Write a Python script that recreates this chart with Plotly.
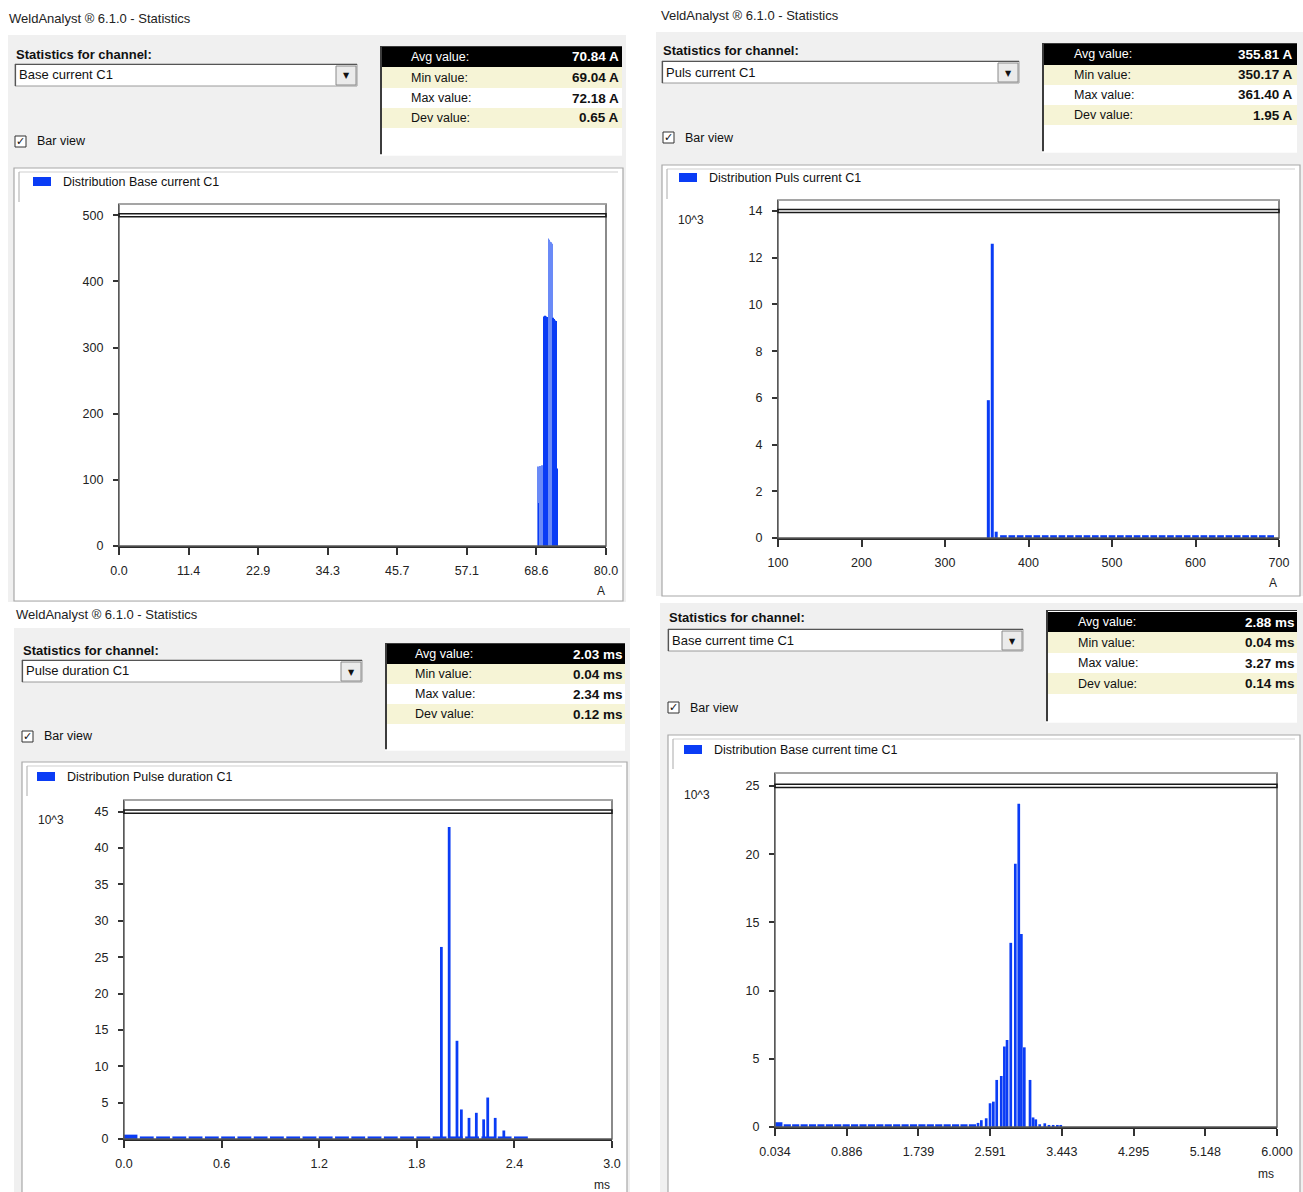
import plotly.graph_objects as go

W, H = 1303, 1192
FONT = "Liberation Sans, Arial, sans-serif"
BLUE = "#0a3cf5"
LIGHT = "#6a8af7"
CREAM = "#f6f4d6"
PANEL = "#f0f0f0"

# ---------------- data ----------------
row_labels = ["Avg value:", "Min value:", "Max value:", "Dev value:"]
channels = ["Base current C1", "Puls current C1", "Pulse duration C1", "Base current time C1"]
legend_names = ["Distribution Base current C1", "Distribution Puls current C1",
                "Distribution Pulse duration C1", "Distribution Base current time C1"]
stats_text = [
    ["70.84 A", "69.04 A", "72.18 A", "0.65 A"],
    ["355.81 A", "350.17 A", "361.40 A", "1.95 A"],
    ["2.03 ms", "0.04 ms", "2.34 ms", "0.12 ms"],
    ["2.88 ms", "0.04 ms", "3.27 ms", "0.14 ms"],
]

# Panel 1: Base current C1 (A) - counts
p1_x = [68.75, 68.85, 68.95, 69.05, 69.15, 69.25, 69.35, 69.45, 69.55, 69.65, 69.75,
        69.85, 69.95, 70.05, 70.15, 70.25, 70.35, 70.45,
        70.55, 70.65, 70.75, 70.85, 70.95, 71.05, 71.15,
        71.25, 71.35, 71.45, 71.55, 71.65, 71.75, 71.85, 71.95]
p1_y = [118, 120, 65, 121, 120, 121, 120, 122, 121, 120, 119,
        347, 348, 347, 346, 347, 346, 346,
        465, 463, 462, 460, 459, 458, 457,
        345, 344, 343, 342, 341, 340, 118, 117]
p1_xticks = [0, 11.43, 22.86, 34.29, 45.71, 57.14, 68.57, 80]
p1_xlabels = ["0.0", "11.4", "22.9", "34.3", "45.7", "57.1", "68.6", "80.0"]
p1_yticks = [0, 100, 200, 300, 400, 500]

# Panel 2: Puls current C1 (A) - counts in 10^3
p2_x = [351.9, 356.6, 361.3]
p2_y = [5.9, 12.6, 0.27]
p2_base_x = [370, 380, 390, 400, 410, 420, 430, 440, 450, 460, 470, 480, 490, 500, 510,
             520, 530, 540, 550, 560, 570, 580, 590, 600, 610, 620, 630, 640, 650, 660,
             670, 680, 690]
p2_base_y = [0.12, 0.12, 0.12, 0.12, 0.12, 0.12, 0.12, 0.12, 0.12, 0.12, 0.12, 0.12,
             0.12, 0.12, 0.12, 0.12, 0.12, 0.12, 0.12, 0.12, 0.12, 0.12, 0.12, 0.12,
             0.12, 0.12, 0.12, 0.12, 0.12, 0.12, 0.12, 0.12, 0.12]
p2_xticks = [100, 200, 300, 400, 500, 600, 700]
p2_xlabels = ["100", "200", "300", "400", "500", "600", "700"]
p2_yticks = [0, 2, 4, 6, 8, 10, 12, 14]

# Panel 3: Pulse duration C1 (ms) - counts in 10^3
p3_x = [1.951, 1.999, 2.047, 2.074, 2.121, 2.166, 2.211, 2.236, 2.282, 2.335]
p3_y = [26.4, 42.9, 13.5, 4.06, 2.9, 3.6, 2.7, 5.7, 2.9, 1.17]
p3_base_x = [0.04, 0.14, 0.24, 0.34, 0.44, 0.54, 0.64, 0.74, 0.84, 0.94, 1.04, 1.14, 1.24,
             1.34, 1.44, 1.54, 1.64, 1.74, 1.84, 1.94, 2.04, 2.14, 2.24, 2.34, 2.44]
p3_base_y = [0.6, 0.35, 0.35, 0.35, 0.35, 0.35, 0.35, 0.35, 0.35, 0.35, 0.35, 0.35, 0.35,
             0.35, 0.35, 0.35, 0.35, 0.35, 0.35, 0.35, 0.35, 0.35, 0.35, 0.35, 0.35]
p3_xticks = [0.0, 0.6, 1.2, 1.8, 2.4, 3.0]
p3_xlabels = ["0.0", "0.6", "1.2", "1.8", "2.4", "3.0"]
p3_yticks = [0, 5, 10, 15, 20, 25, 30, 35, 40, 45]

# Panel 4: Base current time C1 (ms) - counts in 10^3
p4_x = [2.447, 2.486, 2.544, 2.590, 2.629, 2.669, 2.723, 2.760, 2.792, 2.836, 2.890,
        2.931, 2.962, 2.997, 3.065, 3.101, 3.133, 3.18, 3.24, 3.29, 3.34, 3.39, 3.43]
p4_y = [0.3, 0.5, 0.64, 1.74, 1.86, 3.45, 3.74, 5.9, 6.38, 13.5, 19.3,
        23.7, 14.15, 5.84, 3.45, 0.7, 0.56, 0.2, 0.27, 0.15, 0.15, 0.15, 0.15]
p4_base_x = [0.08, 0.18, 0.28, 0.38, 0.48, 0.58, 0.68, 0.78, 0.88, 0.98, 1.08, 1.18,
             1.28, 1.38, 1.48, 1.58, 1.68, 1.78, 1.88, 1.98, 2.08, 2.18, 2.28, 2.38]
p4_base_y = [0.35, 0.2, 0.2, 0.2, 0.2, 0.2, 0.2, 0.2, 0.2, 0.2, 0.2, 0.2,
             0.2, 0.2, 0.2, 0.2, 0.2, 0.2, 0.2, 0.2, 0.2, 0.2, 0.2, 0.2]
p4_xticks = [0.034, 0.886, 1.739, 2.591, 3.443, 4.295, 5.148, 6.000]
p4_xlabels = ["0.034", "0.886", "1.739", "2.591", "3.443", "4.295", "5.148", "6.000"]
p4_yticks = [0, 5, 10, 15, 20, 25]


# ---------------- helpers ----------------
def px(x):
    return x / W


def py(y):
    return 1 - y / H


shapes = []
ann = []


def rect(x0, y0, x1, y1, fill=None, line=None, lw=1, layer="below"):
    shapes.append(dict(type="rect", xref="paper", yref="paper",
                       x0=px(x0), x1=px(x1), y0=py(y1), y1=py(y0),
                       fillcolor=fill if fill else "rgba(0,0,0,0)",
                       line=dict(color=line if line else "rgba(0,0,0,0)",
                                 width=lw if line else 0),
                       layer=layer))


def seg(x0, y0, x1, y1, color, w=1, layer="below"):
    shapes.append(dict(type="line", xref="paper", yref="paper",
                       x0=px(x0), x1=px(x1), y0=py(y0), y1=py(y1),
                       line=dict(color=color, width=w), layer=layer))


def text(x, y, s, size=12.5, color="#111", anchor="left", family=FONT):
    ann.append(dict(xref="paper", yref="paper", x=px(x), y=py(y), text=s,
                    showarrow=False, xanchor=anchor, yanchor="middle", borderpad=0,
                    font=dict(family=family, size=size, color=color)))


# ---------------- GUI chrome ----------------
gui = [
    dict(bg=(8, 35, 626, 602), title=(8, 18, "WeldAnalyst ® 6.1.0 - Statistics"), label=(15, 54),
         combo=(15, 64, 357, 86), check=(15, 136), stats=(380, 46, 622, 155),
         rows=(47, 67, 88, 108, 128), lab_x=410, val_x=620, group=(14, 168, 623, 601),
         leg=(33, 177), unit=(601, 591, "A"), exp=None),
    dict(bg=(656, 32, 1303, 596), title=(660, 16, "VeldAnalyst ® 6.1.0 - Statistics"), label=(662, 51),
         combo=(662, 61, 1019, 83), check=(663, 132), stats=(1042, 43, 1297, 152),
         rows=(44, 65, 85, 105, 125), lab_x=1073, val_x=1294, group=(662, 165, 1300, 596),
         leg=(679, 173), unit=(1273, 583, "A"), exp=(677, 220)),
    dict(bg=(14, 628, 630, 1192), title=(15, 614, "WeldAnalyst ® 6.1.0 - Statistics"), label=(22, 650),
         combo=(22, 660, 362, 682), check=(22, 731), stats=(385, 643, 625, 750),
         rows=(644, 664, 684, 704, 724), lab_x=414, val_x=624, group=(22, 762, 627, 1195),
         leg=(37, 772), unit=(602, 1185, "ms"), exp=(37, 820)),
    dict(bg=(660, 603, 1303, 1192), title=None, label=(668, 618),
         combo=(668, 629, 1023, 651), check=(668, 702), stats=(1046, 610, 1297, 722),
         rows=(612, 632, 653, 673, 694), lab_x=1077, val_x=1296, group=(668, 735, 1300, 1195),
         leg=(684, 745), unit=(1266, 1174, "ms"), exp=(683, 795)),
]

for i, g in enumerate(gui):
    bx0, by0, bx1, by1 = g["bg"]
    rect(bx0, by0, bx1, by1, fill=PANEL)
    if g["title"]:
        tx, ty, tt = g["title"]
        text(tx, ty, tt, size=13, color="#222")
    lx, ly = g["label"]
    text(lx, ly, "<b>Statistics for channel:</b>", size=13, color="#111")
    # combo box
    cx0, cy0, cx1, cy1 = g["combo"]
    rect(cx0, cy0, cx1, cy1, fill="white", line="#9a9a9a", lw=1)
    seg(cx0, cy0 + 0.5, cx1, cy0 + 0.5, "#555", 1.2)
    seg(cx0 + 0.5, cy0, cx0 + 0.5, cy1, "#555", 1.2)
    rect(cx1 - 21, cy0 + 2, cx1 - 1, cy1 - 1, fill="#ebebeb", line="#8a8a8a", lw=1)
    text(cx0 + 3, (cy0 + cy1) / 2, channels[i], size=13, color="#111")
    text(cx1 - 11, (cy0 + cy1) / 2 + 1, "▼", size=8, color="#111", anchor="center",
         family="DejaVu Sans")
    # check box
    kx, ky = g["check"]
    rect(kx, ky, kx + 11, ky + 11, fill="white", line="#333", lw=1)
    text(kx + 5.5, ky + 5.5, "✓", size=11, color="#111", anchor="center", family="DejaVu Sans")
    text(kx + 21, ky + 5.5, "Bar view", size=12.5, color="#111")
    # stats box
    sx0, sy0, sx1, sy1 = g["stats"]
    rect(sx0, sy0, sx1, sy1, fill="white")
    r = g["rows"]
    fills = ["#000000", CREAM, "white", CREAM]
    for k in range(4):
        rect(sx0 + 1, r[k], sx1, r[k + 1], fill=fills[k])
        col = "white" if k == 0 else "#111"
        text(g["lab_x"], (r[k] + r[k + 1]) / 2, row_labels[k], size=12.5, color=col)
        text(g["val_x"], (r[k] + r[k + 1]) / 2, "<b>" + stats_text[i][k] + "</b>",
             size=13.5, color=col, anchor="right")
    seg(sx0 + 1, sy0, sx0 + 1, sy1, "#3c3c3c", 2)
    seg(sx0, sy0 + 0.5, sx1, sy0 + 0.5, "#3c3c3c", 1.2)
    seg(sx0, sy1, sx1, sy1, "#ffffff", 1.5)
    # chart group box
    gx0, gy0, gx1, gy1 = g["group"]
    rect(gx0, gy0, gx1, gy1, fill="white", line="#a8a8a8", lw=1.2)
    seg(gx0 + 5, gy0 + 4, gx1 - 5, gy0 + 4, "#cfcfcf", 1)
    seg(gx0 + 5, gy0 + 4, gx0 + 5, gy0 + 34, "#b8b8b8", 1.2)
    # legend
    lgx, lgy = g["leg"]
    rect(lgx, lgy, lgx + 18, lgy + 9, fill=BLUE)
    text(lgx + 29, lgy + 5, legend_names[i], size=12.5, color="#111")
    # unit / exponent
    ux, uy, ut = g["unit"]
    text(ux, uy, ut, size=12, color="#222", anchor="center")
    if g["exp"]:
        ex, ey = g["exp"]
        text(ex, ey, "10^3", size=12, color="#222")

# ---------------- plots ----------------
plots = [
    dict(box=(119, 204, 606, 546), xr=[0, 80], yr=[0, 517], xt=p1_xticks, xl=p1_xlabels, yt=p1_yticks),
    dict(box=(778, 200, 1279, 538), xr=[100, 700], yr=[0, 14.47], xt=p2_xticks, xl=p2_xlabels, yt=p2_yticks),
    dict(box=(124, 800, 612, 1139), xr=[0, 3.0], yr=[0, 46.6], xt=p3_xticks, xl=p3_xlabels, yt=p3_yticks),
    dict(box=(775, 773, 1277, 1127), xr=[0.034, 6.0], yr=[0, 25.95], xt=p4_xticks, xl=p4_xlabels, yt=p4_yticks),
]

fig = go.Figure()


def add_bars(x, y, n, width, color):
    s = "" if n == 1 else str(n)
    fig.add_trace(go.Bar(x=x, y=y, width=width, xaxis="x" + s, yaxis="y" + s,
                         marker=dict(color=color, line=dict(width=0)),
                         hoverinfo="skip", showlegend=False))


p1_colors = [LIGHT if (v > 400 or (xv < 69.8 and v > 100)) else BLUE for xv, v in zip(p1_x, p1_y)]
add_bars(p1_x, p1_y, 1, 0.1, p1_colors)
add_bars(p2_base_x, p2_base_y, 2, 8, BLUE)
add_bars(p2_x, p2_y, 2, 3.6, BLUE)
add_bars(p3_base_x, p3_base_y, 3, 0.085, BLUE)
add_bars(p3_x, p3_y, 3, 0.017, BLUE)
add_bars(p4_base_x, p4_base_y, 4, 0.085, BLUE)
add_bars(p4_x, p4_y, 4, 0.032, BLUE)

layout_axes = {}
tickfont = dict(family=FONT, size=12.5, color="#222")
for n, p in enumerate(plots, start=1):
    s = "" if n == 1 else str(n)
    x0, y0, x1, y1 = p["box"]
    layout_axes["xaxis" + s] = dict(
        domain=[px(x0), px(x1)], range=p["xr"], anchor="y" + s, automargin=False,
        showgrid=False, zeroline=False, showline=True, linecolor="#2a2a2a", linewidth=2,
        ticks="outside", ticklen=7, tickwidth=1.5, tickcolor="#333",
        tickvals=p["xt"], ticktext=p["xl"], tickfont=tickfont, ticklabelstandoff=5,
        fixedrange=True)
    layout_axes["yaxis" + s] = dict(
        domain=[py(y1), py(y0)], range=p["yr"], anchor="x" + s, automargin=False,
        showgrid=False, zeroline=False, showline=True, linecolor="#555", linewidth=1.2,
        ticks="outside", ticklen=5, tickwidth=1.5, tickcolor="#333",
        tickvals=p["yt"], tickfont=tickfont, ticklabelstandoff=7, fixedrange=True)
    # frame
    shapes.append(dict(type="rect", xref="x" + s + " domain", yref="y" + s + " domain",
                       x0=0, x1=1, y0=0, y1=1, line=dict(color="#5a5a5a", width=1.4),
                       fillcolor="rgba(0,0,0,0)", layer="above"))
    shapes.append(dict(type="line", xref="x" + s + " domain", yref="y" + s + " domain",
                       x0=0, x1=1, y0=1, y1=1, line=dict(color="#b0b0b0", width=1.4),
                       layer="above"))
    # double line at the top tick
    shapes.append(dict(type="rect", xref="x" + s + " domain", yref="y" + s,
                       x0=0, x1=1, ysizemode="pixel", yanchor=p["yt"][-1], y0=-1.6, y1=1.6,
                       line=dict(color="#1a1a1a", width=1.5), fillcolor="rgba(0,0,0,0)",
                       layer="above"))

fig.update_layout(
    width=W, height=H, autosize=False,
    margin=dict(l=0, r=0, t=0, b=0, pad=0, autoexpand=False),
    paper_bgcolor="white", plot_bgcolor="white", showlegend=False,
    barmode="overlay", font=dict(family=FONT),
    shapes=shapes, annotations=ann, **layout_axes)

fig.write_html("out.html", config={"displayModeBar": False})
